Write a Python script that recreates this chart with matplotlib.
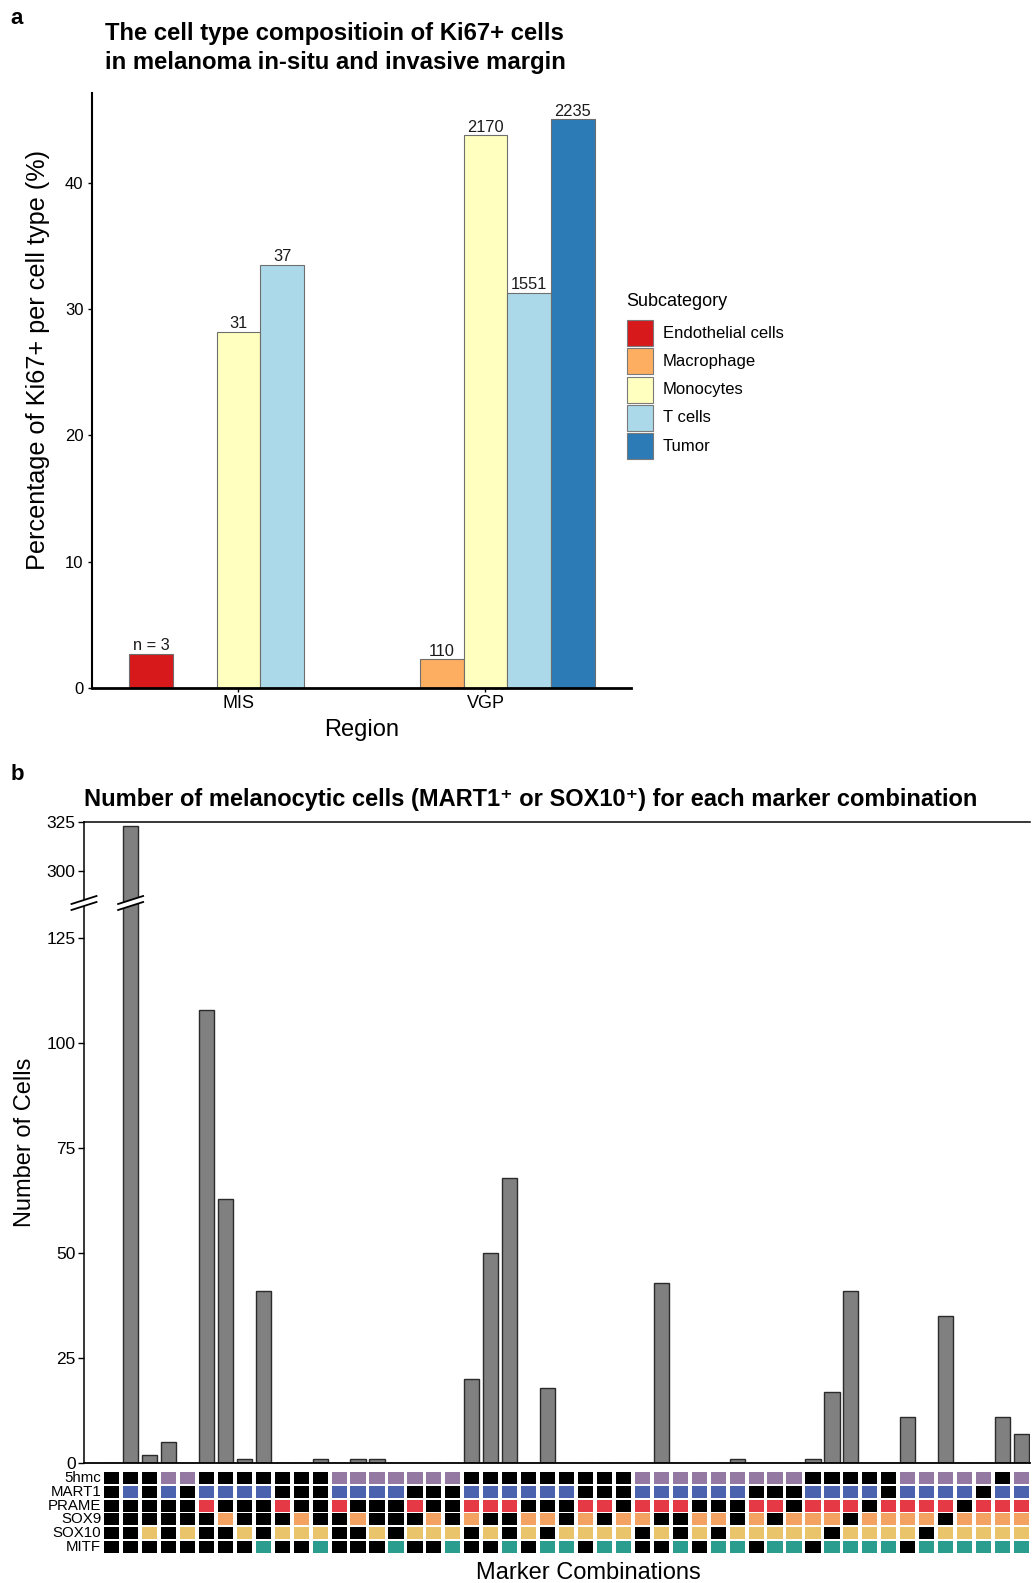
import numpy as np
import matplotlib
matplotlib.use('Agg')
import matplotlib.pyplot as plt
from matplotlib.patches import Rectangle, Polygon
from matplotlib.lines import Line2D

plt.rcParams['font.family'] = ['Liberation Sans', 'DejaVu Sans']

# ---------------- data: panel a ----------------
regions = ['MIS', 'VGP']
subcats = ['Endothelial cells', 'Macrophage', 'Monocytes', 'T cells', 'Tumor']
sub_colors = ['#D7191C', '#FDAE61', '#FFFFBF', '#ABD9E9', '#2C7BB6']
pct_mis = [2.75, np.nan, 28.2, 33.5, np.nan]
pct_vgp = [np.nan, 2.3, 43.75, 31.3, 45.0]
n_mis = ['n = 3', '', '31', '37', '']
n_vgp = ['', '110', '2170', '1551', '2235']
a_yticks = [0, 10, 20, 30, 40]

# ---------------- data: panel b ----------------
markers = ['5hmc', 'MART1', 'PRAME', 'SOX9', 'SOX10', 'MITF']
marker_colors = ['#9479A2', '#4B62AE', '#E63946', '#F4A261', '#E9C46A', '#2A9D8F']
combos = ['000000', '010000', '000010', '110000', '100010', '011000', '010100',
          '010010', '010001', '001010', '000110', '000011', '111000', '110100',
          '110010', '110001', '101010', '100110', '100011', '011100', '011010',
          '011001', '010110', '010101', '010011', '001110', '001011', '000111',
          '111100', '111010', '111001', '110110', '110101', '110011', '101110',
          '101011', '100111', '011110', '011101', '011011', '010111', '001111',
          '111110', '111101', '111011', '110111', '101111', '011111', '111111']
counts = [0, 323, 2, 5, 0, 108, 63, 1, 41, 0, 0, 1, 0, 1, 1, 0, 0, 0, 0, 20, 50,
          68, 0, 18, 0, 0, 0, 0, 0, 43, 0, 0, 0, 1, 0, 0, 0, 1, 17, 41, 0, 0,
          11, 0, 35, 0, 0, 11, 7]
b_low_ticks = [0, 25, 50, 75, 100, 125]
b_up_ticks = [300, 325]

W, H = 1032, 1583
fig = plt.figure(figsize=(W / 100, H / 100), dpi=100)


def fax(l, t, r, b):
    return fig.add_axes([l / W, 1 - b / H, (r - l) / W, (b - t) / H])


def ftext(x, y, s, **kw):
    return fig.text(x / W, 1 - y / H, s, **kw)

# ================= panel a =================
ax = fax(91.7, 92.9, 631, 688.3)
bw = 0.177
for r, (vals, labs) in enumerate([(pct_mis, n_mis), (pct_vgp, n_vgp)]):
    for k, (v, lab) in enumerate(zip(vals, labs)):
        if np.isnan(v):
            continue
        xk = r + (k - 2) * bw
        ax.bar(xk, v, width=bw, color=sub_colors[k], edgecolor='#6E6E6E',
               linewidth=0.8, zorder=2)
        ax.text(xk, v + 0.05, lab, ha='center', va='bottom', fontsize=11.8,
                color='#1a1a1a')
ax.set_xlim(-0.594, 1.589)
ax.set_ylim(0, 47.1)
ax.set_xticks(range(len(regions)))
ax.set_xticklabels(regions, fontsize=13)
ax.set_yticks(a_yticks)
ax.set_yticklabels([str(t) for t in a_yticks], fontsize=12)
for s in ['top', 'right']:
    ax.spines[s].set_visible(False)
ax.spines['left'].set_linewidth(1.5)
ax.spines['bottom'].set_linewidth(2.0)
ax.tick_params(axis='both', length=3, width=1, pad=3, colors='black')
ax.tick_params(axis='x', pad=2)

# legend drawn by hand (key boxes + labels)
ftext(626, 301, 'Subcategory', fontsize=13, va='center', ha='left')
for k, (c, lab) in enumerate(zip(sub_colors, subcats)):
    top = 320 + k * 28.3
    fig.add_artist(Rectangle((626.7 / W, 1 - (top + 26) / H), 26.6 / W, 26 / H,
                             transform=fig.transFigure, facecolor=c,
                             edgecolor='#7a7a7a', linewidth=0.8))
    ftext(663, top + 13, lab, fontsize=12, va='center', ha='left')

ftext(105, 33.3, 'The cell type compositioin of Ki67+ cells', fontsize=17.2,
      fontweight='bold', va='center', ha='left')
ftext(105, 62.6, 'in melanoma in-situ and invasive margin', fontsize=17.2,
      fontweight='bold', va='center', ha='left')
ftext(17, 18, 'a', fontsize=16, fontweight='bold', va='center', ha='center')
ftext(38, 360, 'Percentage of Ki67+ per cell type (%)', fontsize=18.2,
      rotation=90, va='center', ha='center')
ftext(361.5, 730, 'Region', fontsize=17, va='center', ha='center')

# ================= panel b =================
ftext(17, 775, 'b', fontsize=16, fontweight='bold', va='center', ha='center')
ftext(84, 800, 'Number of melanocytic cells (MART1\u207a or SOX10\u207a) for each marker combination',
      fontsize=17.0, fontweight='bold', va='center', ha='left')

top_px, brk_px, base_px = 822, 903, 1463.3
ax_up = fax(84, top_px, 1030, brk_px)
ax_lo = fax(84, brk_px, 1030, base_px)
ax_m = fax(84, 1470.7, 1030, 1554.3)

xs = np.arange(len(counts))
xlim = (-1.46, 48.45)
for a in (ax_up, ax_lo):
    a.bar(xs, counts, width=0.8, color='#808080', edgecolor='#2b2b2b',
          linewidth=1.0, zorder=2)
    a.set_xlim(*xlim)
    a.set_xticks([])
    a.spines['right'].set_visible(False)
    a.spines['left'].set_linewidth(1.1)
    a.tick_params(axis='y', length=4, width=1, labelsize=12.5, pad=2)

ax_lo.set_ylim(0, (base_px - brk_px) / 4.2)
ax_lo.set_yticks(b_low_ticks)
ax_lo.spines['top'].set_visible(False)
ax_lo.spines['bottom'].set_linewidth(1.3)

ax_up.set_ylim(325 - (brk_px - top_px) / 1.976, 325)
ax_up.set_yticks(b_up_ticks)
ax_up.spines['bottom'].set_visible(False)
ax_up.spines['top'].set_linewidth(1.1)


# break marks on the axis and on the tallest bar
def break_mark(xd):
    px, py = ax_lo.transData.transform((xd, ax_lo.get_ylim()[1]))
    hw, sl, g = 12.5, 4.0, 3.0
    poly = Polygon([(px - hw, py - sl - g), (px + hw, py + sl - g),
                    (px + hw, py + sl + g), (px - hw, py - sl + g)],
                   closed=True, facecolor='white', edgecolor='none',
                   transform=None, zorder=20)
    fig.add_artist(poly)
    for s in (-g, g):
        fig.add_artist(Line2D([(px - hw) / W, (px + hw) / W],
                              [(py - sl + s) / H, (py + sl + s) / H],
                              color='black', lw=1.3, transform=fig.transFigure,
                              zorder=21))


break_mark(xlim[0])
break_mark(xs[int(np.argmax(counts))])

# marker matrix
for j, combo in enumerate(combos):
    for i, ch in enumerate(combo):
        col = marker_colors[i] if ch == '1' else 'black'
        ax_m.add_patch(Rectangle((j - 0.4, i - 0.43), 0.8, 0.86,
                                 facecolor=col, edgecolor='none'))
for i, m in enumerate(markers):
    ax_m.text(-0.55, i, m, ha='right', va='center', fontsize=10.8)
ax_m.set_xlim(*xlim)
ax_m.set_ylim(len(markers) - 0.5, -0.5)
ax_m.axis('off')

ftext(25, 1142, 'Number of Cells', fontsize=17, rotation=90, va='center',
      ha='center')
ftext(588, 1573, 'Marker Combinations', fontsize=17, va='center', ha='center')

fig.savefig('out.png', dpi=100)
